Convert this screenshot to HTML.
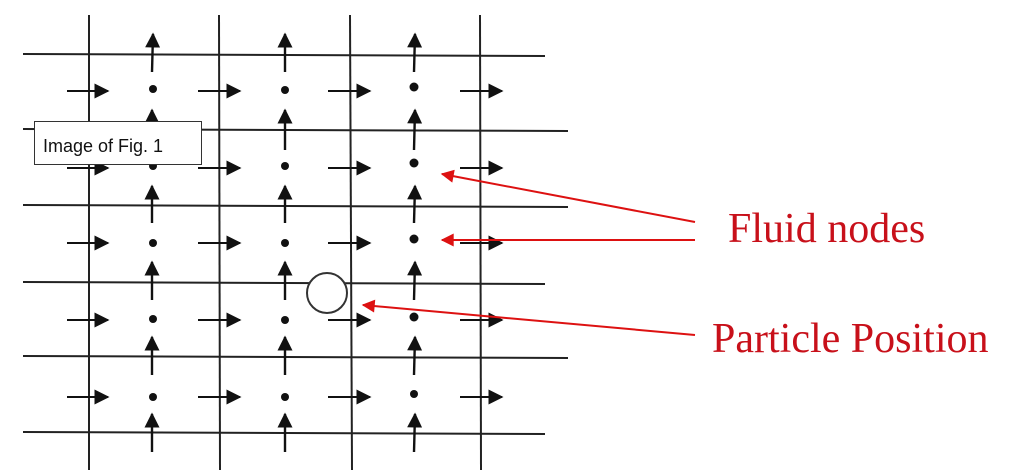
<!DOCTYPE html>
<html><head><meta charset="utf-8"><style>
html,body{margin:0;padding:0;background:#fff;width:1013px;height:475px;overflow:hidden}
</style></head><body>
<svg width="1013" height="475" viewBox="0 0 1013 475" xmlns="http://www.w3.org/2000/svg">
<defs>
<marker id="bh" viewBox="0 0 10 10" refX="9" refY="5" markerWidth="15" markerHeight="15" markerUnits="userSpaceOnUse" orient="auto"><path d="M0,0L10,5L0,10z" fill="#111"/></marker>
<marker id="rh" viewBox="0 0 10 10" refX="1" refY="5" markerWidth="16" markerHeight="13" markerUnits="userSpaceOnUse" orient="auto"><path d="M10,0L0,5L10,10z" fill="#d11"/></marker>
</defs>
<g stroke="#222" stroke-width="2" fill="none">
<line x1="89" y1="15" x2="89" y2="470"/>
<line x1="219" y1="15" x2="220" y2="470"/>
<line x1="350" y1="15" x2="352" y2="470"/>
<line x1="480" y1="15" x2="481" y2="470"/>
<line x1="23" y1="54" x2="545" y2="56"/>
<line x1="23" y1="129" x2="568" y2="131"/>
<line x1="23" y1="205" x2="568" y2="207"/>
<line x1="23" y1="282" x2="545" y2="284"/>
<line x1="23" y1="356" x2="568" y2="358"/>
<line x1="23" y1="432" x2="545" y2="434"/>
</g>
<g stroke="#111" stroke-width="2">
<g transform="translate(0,91)"><line x1="67" y1="0" x2="108" y2="0" marker-end="url(#bh)"/><line x1="198" y1="0" x2="240" y2="0" marker-end="url(#bh)"/><line x1="328" y1="0" x2="370" y2="0" marker-end="url(#bh)"/><line x1="460" y1="0" x2="502" y2="0" marker-end="url(#bh)"/></g>
<g transform="translate(0,168)"><line x1="67" y1="0" x2="108" y2="0" marker-end="url(#bh)"/><line x1="198" y1="0" x2="240" y2="0" marker-end="url(#bh)"/><line x1="328" y1="0" x2="370" y2="0" marker-end="url(#bh)"/><line x1="460" y1="0" x2="502" y2="0" marker-end="url(#bh)"/></g>
<g transform="translate(0,243)"><line x1="67" y1="0" x2="108" y2="0" marker-end="url(#bh)"/><line x1="198" y1="0" x2="240" y2="0" marker-end="url(#bh)"/><line x1="328" y1="0" x2="370" y2="0" marker-end="url(#bh)"/><line x1="460" y1="0" x2="502" y2="0" marker-end="url(#bh)"/></g>
<g transform="translate(0,320)"><line x1="67" y1="0" x2="108" y2="0" marker-end="url(#bh)"/><line x1="198" y1="0" x2="240" y2="0" marker-end="url(#bh)"/><line x1="328" y1="0" x2="370" y2="0" marker-end="url(#bh)"/><line x1="460" y1="0" x2="502" y2="0" marker-end="url(#bh)"/></g>
<g transform="translate(0,397)"><line x1="67" y1="0" x2="108" y2="0" marker-end="url(#bh)"/><line x1="198" y1="0" x2="240" y2="0" marker-end="url(#bh)"/><line x1="328" y1="0" x2="370" y2="0" marker-end="url(#bh)"/><line x1="460" y1="0" x2="502" y2="0" marker-end="url(#bh)"/></g>
</g>
<g stroke="#111" stroke-width="2.4" marker-end="url(#bh)">
<line x1="152" y1="72" x2="153" y2="34"/><line x1="285" y1="72" x2="285" y2="34"/><line x1="414" y1="72" x2="415" y2="34"/>
<line x1="152" y1="150" x2="152" y2="110"/><line x1="285" y1="150" x2="285" y2="110"/><line x1="414" y1="150" x2="415" y2="110"/>
<line x1="152" y1="223" x2="152" y2="186"/><line x1="285" y1="223" x2="285" y2="186"/><line x1="414" y1="223" x2="415" y2="186"/>
<line x1="152" y1="300" x2="152" y2="262"/><line x1="285" y1="300" x2="285" y2="262"/><line x1="414" y1="300" x2="415" y2="262"/>
<line x1="152" y1="375" x2="152" y2="337"/><line x1="285" y1="375" x2="285" y2="337"/><line x1="414" y1="375" x2="415" y2="337"/>
<line x1="152" y1="452" x2="152" y2="414"/><line x1="285" y1="452" x2="285" y2="414"/><line x1="414" y1="452" x2="415" y2="414"/>
</g>
<g fill="#111">
<circle cx="153" cy="89" r="4"/><circle cx="285" cy="90" r="4"/><circle cx="414" cy="87" r="4.5"/>
<circle cx="153" cy="166" r="4"/><circle cx="285" cy="166" r="4"/><circle cx="414" cy="163" r="4.5"/>
<circle cx="153" cy="243" r="4"/><circle cx="285" cy="243" r="4"/><circle cx="414" cy="239" r="4.5"/>
<circle cx="153" cy="319" r="4"/><circle cx="285" cy="320" r="4"/><circle cx="414" cy="317" r="4.5"/>
<circle cx="153" cy="397" r="4"/><circle cx="285" cy="397" r="4"/><circle cx="414" cy="394" r="4"/>
</g>
<circle cx="327" cy="293" r="20" fill="#fff" stroke="#333" stroke-width="2"/>
<g stroke="#d11" stroke-width="2" marker-start="url(#rh)">
<line x1="442" y1="174" x2="695" y2="222"/>
<line x1="442" y1="240" x2="695" y2="240"/>
<line x1="363" y1="305" x2="695" y2="335"/>
</g>
<text x="728" y="242" font-family="Liberation Serif, serif" font-size="42" fill="#c8101a">Fluid nodes</text>
<text x="712" y="352" font-family="Liberation Serif, serif" font-size="42" fill="#c8101a">Particle Position</text>
<rect x="34.5" y="121.5" width="167" height="43" fill="#fff" stroke="#333" stroke-width="1"/>
<text x="43" y="152" font-family="Liberation Sans, sans-serif" font-size="18" fill="#111">Image of Fig. 1</text>
</svg>
</body></html>
